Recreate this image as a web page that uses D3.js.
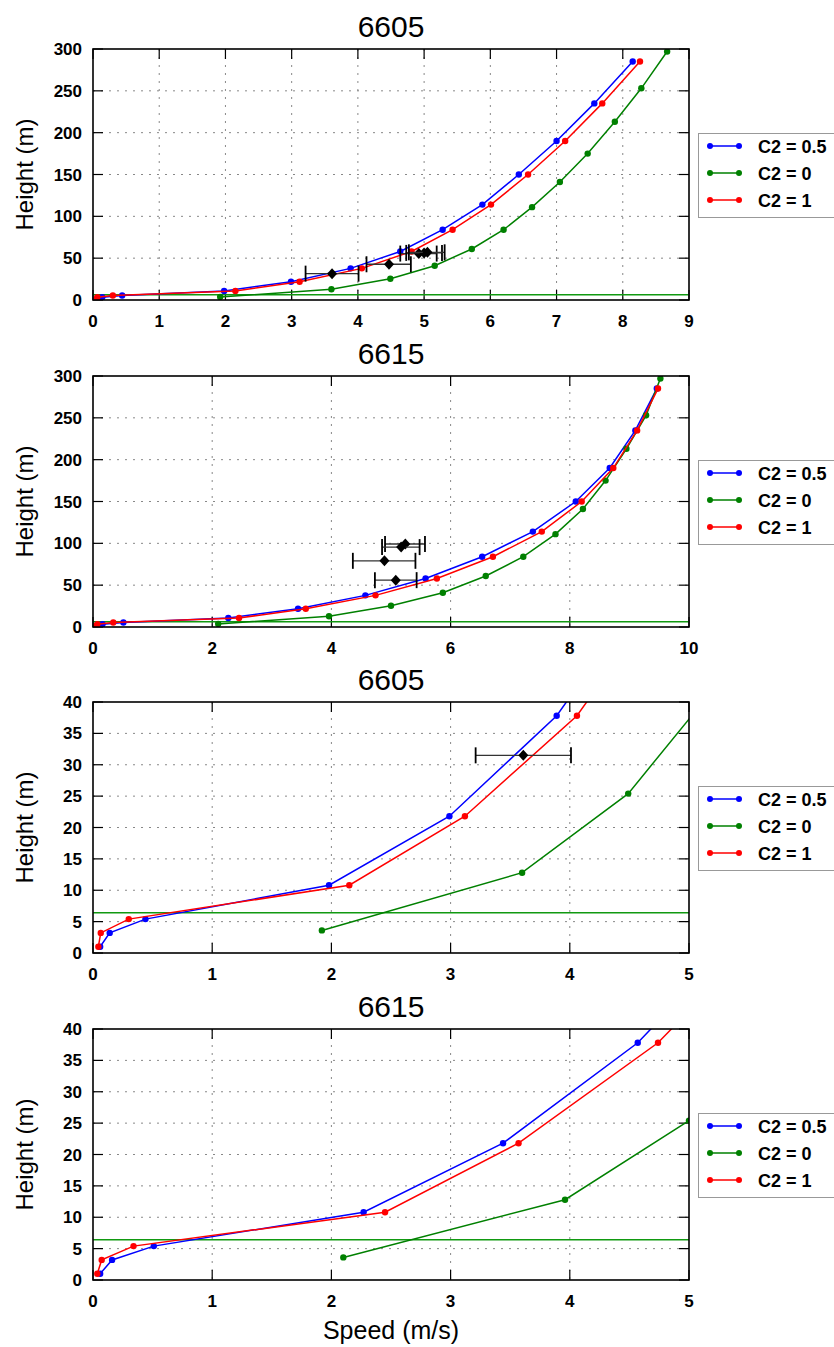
<!DOCTYPE html>
<html>
<head>
<meta charset="utf-8">
<script src="https://cdn.jsdelivr.net/npm/d3@7"></script>
<style>
  body { margin: 0; background: #fff; }
  svg { display: block; font-family: "Liberation Sans", Arial, sans-serif; }
</style>
</head>
<body>
<svg id="fig" width="834" height="1347"></svg>
<script>
// heights of the model levels
var hModel = [1.0, 3.2, 5.4, 10.8, 21.8, 37.8, 58, 84, 114, 150, 190, 235, 285];   // C2 = 0.5 and C2 = 1
var hGreen = [3.6, 12.8, 25.4, 41, 61, 84, 111, 141, 175, 213, 253, 297];          // C2 = 0

// station 6605 speeds
var blue6605  = [0.06, 0.14, 0.44, 1.98, 2.99, 3.89, 4.64, 5.28, 5.88, 6.43, 7.00, 7.57, 8.15];
var red6605   = [0.045, 0.065, 0.30, 2.15, 3.12, 4.06, 4.81, 5.43, 6.01, 6.57, 7.13, 7.69, 8.26];
var green6605 = [1.92, 3.60, 4.49, 5.16, 5.72, 6.20, 6.63, 7.05, 7.47, 7.88, 8.28, 8.67];

// station 6615 speeds
var blue6615  = [0.06, 0.16, 0.51, 2.27, 3.44, 4.57, 5.58, 6.53, 7.38, 8.10, 8.67, 9.10, 9.46];
var red6615   = [0.036, 0.073, 0.34, 2.45, 3.57, 4.74, 5.77, 6.71, 7.53, 8.20, 8.73, 9.13, 9.48];
var green6615 = [2.10, 3.96, 5.00, 5.87, 6.59, 7.22, 7.76, 8.22, 8.60, 8.95, 9.28, 9.52];

// observations (mean and range)
var obsH6605  = [31.5, 42.7, 55.5, 56.3, 57.0];
var obsU6605  = [3.61, 4.47, 4.92, 5.00, 5.05];
var obsLo6605 = [3.21, 4.13, 4.64, 4.73, 4.77];
var obsHi6605 = [4.01, 4.80, 5.19, 5.27, 5.31];

var obsH6615  = [99.2, 95.5, 79.1, 56.0];
var obsU6615  = [5.24, 5.17, 4.89, 5.08];
var obsLo6615 = [4.90, 4.85, 4.36, 4.73];
var obsHi6615 = [5.57, 5.48, 5.41, 5.43];

var refHeight = 6.4;
var legendNames = ["C2 = 0.5", "C2 = 0", "C2 = 1"];
var colors = ["#0000ff", "#008000", "#ff0000"];

var svg = d3.select("#fig");
var left = 93, right = 689, ph = 251;

function zip(xs, ys){ return xs.map(function(x, i){ return [x, ys[i]]; }); }

function panel(id, top, title, xMax, xStep, yMax, yStep, speeds, obs){
    var x = d3.scaleLinear().domain([0, xMax]).range([left, right]);
    var y = d3.scaleLinear().domain([0, yMax]).range([top + ph, top]);
    var xt = d3.range(0, xMax + 0.001, xStep), yt = d3.range(0, yMax + 0.001, yStep);
    var g = svg.append("g");

    svg.append("clipPath").attr("id", "clip" + id)
        .append("rect").attr("x", left).attr("y", top).attr("width", right - left).attr("height", ph);

    // grid
    g.selectAll(".gx").data(xt.slice(1, -1)).enter().append("line")
        .attr("x1", d => x(d)).attr("x2", d => x(d)).attr("y1", top).attr("y2", top + ph)
        .attr("stroke", "#888").attr("stroke-dasharray", "2,6");
    g.selectAll(".gy").data(yt.slice(1, -1)).enter().append("line")
        .attr("y1", d => y(d)).attr("y2", d => y(d)).attr("x1", left).attr("x2", right)
        .attr("stroke", "#888").attr("stroke-dasharray", "2,6");

    // ticks on all four sides
    var tl = 10;
    xt.forEach(function(d){
        g.append("line").attr("x1", x(d)).attr("x2", x(d)).attr("y1", top + ph).attr("y2", top + ph - tl).attr("stroke", "#000").attr("stroke-width", 1.2);
        g.append("line").attr("x1", x(d)).attr("x2", x(d)).attr("y1", top).attr("y2", top + tl).attr("stroke", "#000").attr("stroke-width", 1.2);
    });
    yt.forEach(function(d){
        g.append("line").attr("y1", y(d)).attr("y2", y(d)).attr("x1", left).attr("x2", left + tl).attr("stroke", "#000").attr("stroke-width", 1.2);
        g.append("line").attr("y1", y(d)).attr("y2", y(d)).attr("x1", right).attr("x2", right - tl).attr("stroke", "#000").attr("stroke-width", 1.2);
    });

    g.selectAll(".xl").data(xt).enter().append("text")
        .attr("x", d => x(d)).attr("y", top + ph + 27).attr("text-anchor", "middle")
        .style("font-size", "17px").style("font-weight", "bold").text(d => d);
    g.selectAll(".yl").data(yt).enter().append("text")
        .attr("x", left - 11).attr("y", d => y(d) + 6).attr("text-anchor", "end")
        .style("font-size", "17px").style("font-weight", "bold").text(d => d);

    var c = g.append("g").attr("clip-path", "url(#clip" + id + ")");

    // reference height
    c.append("line").attr("x1", left).attr("x2", right).attr("y1", y(refHeight)).attr("y2", y(refHeight))
        .attr("stroke", "#119911").attr("stroke-width", 1.5);

    var line = d3.line().x(d => x(d[0])).y(d => y(d[1]));
    var heights = [hModel, hGreen, hModel];
    speeds.forEach(function(s, i){
        var pts = zip(s, heights[i]);
        c.append("path").datum(pts).attr("d", line).attr("fill", "none")
            .attr("stroke", colors[i]).attr("stroke-width", 1.5);
        c.selectAll(".p" + i).data(pts).enter().append("circle")
            .attr("cx", d => x(d[0])).attr("cy", d => y(d[1])).attr("r", 3.2).attr("fill", colors[i]);
    });
    // draw blue again on top (as in the source ordering)
    
    // observations with error bars
    obs.h.forEach(function(h, i){
        var yy = y(h);
        c.append("line").attr("x1", x(obs.lo[i])).attr("x2", x(obs.hi[i])).attr("y1", yy).attr("y2", yy)
            .attr("stroke", "#333").attr("stroke-width", 1.3);
        [obs.lo[i], obs.hi[i]].forEach(function(e){
            c.append("line").attr("x1", x(e)).attr("x2", x(e)).attr("y1", yy - 8).attr("y2", yy + 8)
                .attr("stroke", "#000").attr("stroke-width", 1.8);
        });
        c.append("path").attr("transform", "translate(" + x(obs.u[i]) + "," + yy + ")")
            .attr("d", "M0,-5.5L5,0L0,5.5L-5,0Z").attr("fill", "#000");
    });

    // frame
    g.append("rect").attr("x", left).attr("y", top).attr("width", right - left).attr("height", ph)
        .attr("fill", "none").attr("stroke", "#000").attr("stroke-width", 1.6);

    // title and y label
    g.append("text").attr("x", (left + right) / 2).attr("y", top - 12).attr("text-anchor", "middle")
        .style("font-size", "30px").text(title);
    g.append("text").attr("transform", "translate(33," + (top + ph / 2) + ") rotate(-90)")
        .attr("text-anchor", "middle").style("font-size", "24px").text("Height (m)");

    // legend
    var ly = top + 84;
    var lg = g.append("g");
    lg.append("rect").attr("x", 698.5).attr("y", ly + 0.5).attr("width", 140).attr("height", 84)
        .attr("fill", "#fff").attr("stroke", "#999").attr("stroke-width", 1);
    legendNames.forEach(function(n, i){
        var yy = ly + 13 + i * 27;
        lg.append("line").attr("x1", 710).attr("x2", 739).attr("y1", yy).attr("y2", yy)
            .attr("stroke", colors[i]).attr("stroke-width", 1.5);
        [710, 739].forEach(function(px){
            lg.append("circle").attr("cx", px).attr("cy", yy).attr("r", 3).attr("fill", colors[i]);
        });
        lg.append("text").attr("x", 758).attr("y", yy + 6.5).style("font-size", "18px")
            .style("font-weight", "bold").text(n);
    });
}

var o6605 = {h: obsH6605, u: obsU6605, lo: obsLo6605, hi: obsHi6605};
var o6615 = {h: obsH6615, u: obsU6615, lo: obsLo6615, hi: obsHi6615};

panel(1, 49, "6605", 9, 1, 300, 50, [blue6605, green6605, red6605], o6605);
panel(2, 376, "6615", 10, 2, 300, 50, [blue6615, green6615, red6615], o6615);
panel(3, 702, "6605", 5, 1, 40, 5, [blue6605, green6605, red6605], o6605);
panel(4, 1029, "6615", 5, 1, 40, 5, [blue6615, green6615, red6615], o6615);

svg.append("text").attr("x", (left + right) / 2).attr("y", 1339).attr("text-anchor", "middle")
    .style("font-size", "25px").text("Speed (m/s)");
</script>
</body>
</html>
